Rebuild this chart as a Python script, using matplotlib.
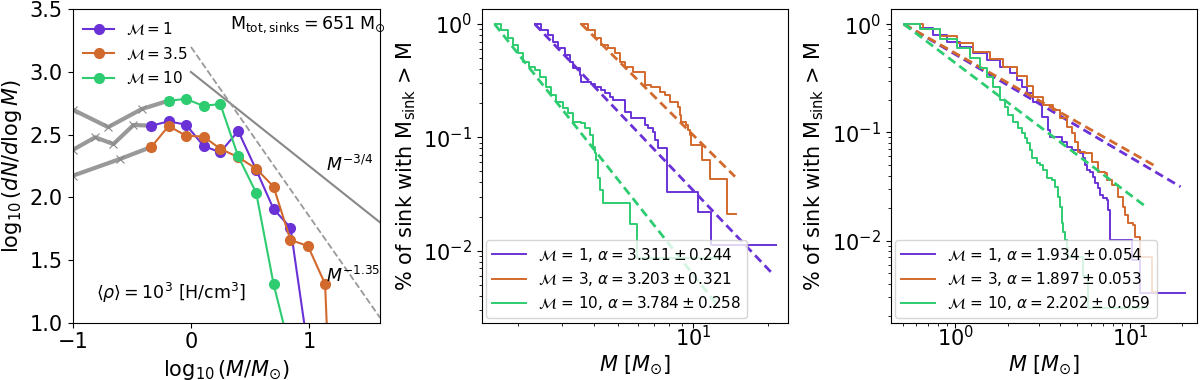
import numpy as np
import matplotlib
matplotlib.use("Agg")
from matplotlib import pyplot as plt
from matplotlib.ticker import NullFormatter

# colours
c_m1 = "#6a32d6"
c_m3 = "#d2692d"
c_m10 = "#2ecc71"

# ---------------- panel 1 : log mass function ----------------
x_m1 = [-0.335, -0.189, -0.042, 0.107, 0.248, 0.400, 0.552, 0.699, 0.842, 0.99]
y_m1 = [2.572, 2.606, 2.580, 2.410, 2.359, 2.529, 2.22, 1.907, 1.758, 0.79]
x_m35 = [-0.335, -0.189, -0.042, 0.107, 0.248, 0.400, 0.552, 0.699, 0.842, 0.99, 1.135, 1.28]
y_m35 = [2.402, 2.569, 2.492, 2.484, 2.388, 2.32, 2.229, 2.085, 1.660, 1.612, 1.309, -2.0]
x_m10 = [-0.189, -0.042, 0.107, 0.248, 0.400, 0.552, 0.699, 0.842]
y_m10 = [2.771, 2.785, 2.729, 2.745, 2.327, 2.037, 1.309, 0.77]

# low-mass (unresolved) part, drawn in grey
gx_m10 = [-1.0, -0.70, -0.415, -0.189]
gy_m10 = [2.70, 2.56, 2.705, 2.771]
gx_m1 = [-1.0, -0.81, -0.656, -0.486, -0.335]
gy_m1 = [2.378, 2.479, 2.425, 2.577, 2.572]
gx_m35 = [-1.0, -0.60, -0.335]
gy_m35 = [2.172, 2.306, 2.402]

# reference slopes
ref_x = [0.0, 1.6]
ref_34 = [3.0, 1.8]
ref_135 = [3.2, 1.04]

# ---------------- panel 2 : CCDF, case a ----------------
p2_m1_M = [2.33, 2.47, 2.63, 2.75, 2.88, 3.07, 3.21, 3.31, 3.52, 3.58, 3.92, 4.04, 4.30, 4.43,
           4.64, 4.79, 5.33, 5.67, 6.41, 6.61, 6.92, 7.03, 7.24, 7.87, 10.47, 11.84, 21.4]
p2_m1_P = [1.0, 0.885, 0.80, 0.70, 0.61, 0.53, 0.465, 0.406, 0.355, 0.31, 0.296, 0.276, 0.262,
           0.245, 0.229, 0.213, 0.168, 0.147, 0.128, 0.12, 0.112, 0.0947, 0.080, 0.0332,
           0.0221, 0.0112, 0.0112]
p2_m3_M = [3.58, 3.80, 4.04, 4.30, 4.57, 4.86, 5.09, 5.33, 5.75, 6.41, 6.81, 7.36, 7.70, 8.07,
           8.71, 8.84, 8.98, 9.40, 9.55, 9.70, 9.79, 10.9, 11.73, 13.6, 14.8]
p2_m3_P = [1.0, 0.885, 0.747, 0.653, 0.61, 0.551, 0.465, 0.42, 0.375, 0.29, 0.28, 0.253, 0.236,
           0.206, 0.187, 0.157, 0.137, 0.128, 0.116, 0.105, 0.0856, 0.063, 0.0426, 0.0211, 0.0211]
p2_m10_M = [1.61, 1.71, 1.82, 1.905, 1.995, 2.09, 2.22, 2.33, 2.44, 2.59, 2.71, 2.84, 3.02, 3.16,
            3.31, 3.58, 3.69, 3.86, 3.98, 4.04, 4.11, 4.17, 4.23, 4.37, 5.58, 5.97, 12.8]
p2_m10_P = [1.0, 0.885, 0.747, 0.653, 0.551, 0.465, 0.42, 0.393, 0.343, 0.28, 0.236, 0.206, 0.18,
            0.163, 0.137, 0.133, 0.12, 0.105, 0.0827, 0.0722, 0.063, 0.0435, 0.0343, 0.0262,
            0.0172, 0.0086, 0.0086]
# power-law fits (end points)
p2_fit_m1 = ([2.33, 20.7], [1.0, 0.0063])
p2_fit_m3 = ([3.58, 14.7], [1.0, 0.045])
p2_fit_m10 = ([1.61, 12.8], [1.0, 0.0031])
p2_labels = [r"$\mathcal{M}$ = 1, $\alpha = 3.311 \pm 0.244$",
             r"$\mathcal{M}$ = 3, $\alpha = 3.203 \pm 0.321$",
             r"$\mathcal{M}$ = 10, $\alpha = 3.784 \pm 0.258$"]

# ---------------- panel 3 : CCDF, case b ----------------
p3_m1_M = [0.508, 0.628, 0.748, 0.892, 1.063, 1.268, 1.511, 1.802, 2.056, 2.245, 2.398, 2.562,
           2.797, 3.121, 3.407, 3.483, 4.061, 4.339, 4.634, 5.17, 5.405, 5.525, 5.648, 5.902,
           6.168, 6.305, 6.588, 6.734, 7.037, 7.354, 7.516, 7.684, 10.22, 11.41, 20.65]
p3_m1_P = [1.0, 0.912, 0.792, 0.687, 0.618, 0.536, 0.465, 0.404, 0.350, 0.304, 0.264, 0.229,
           0.192, 0.1395, 0.105, 0.0912, 0.082, 0.0737, 0.0687, 0.064, 0.0575, 0.0499, 0.0449,
           0.0433, 0.039, 0.0338, 0.0304, 0.0264, 0.0246, 0.0237, 0.0192, 0.0101, 0.0067,
           0.00331, 0.00331]
p3_m3_M = [0.508, 0.656, 0.817, 1.018, 1.268, 1.579, 1.883, 2.245, 2.562, 2.797, 3.189, 3.640,
           3.974, 4.339, 4.634, 4.843, 5.06, 5.525, 6.033, 6.588, 7.194, 7.354, 7.853, 8.576,
           9.16, 9.363, 9.783, 10.45, 10.68, 11.41, 13.30, 14.21]
p3_m3_P = [1.0, 0.893, 0.775, 0.663, 0.555, 0.472, 0.404, 0.331, 0.268, 0.213, 0.179, 0.161,
           0.1347, 0.1128, 0.0979, 0.082, 0.0663, 0.064, 0.0536, 0.0433, 0.0418, 0.0363, 0.0326,
           0.0255, 0.0206, 0.0173, 0.0145, 0.014, 0.0109, 0.0071, 0.00338, 0.00338]
p3_m10_M = [0.508, 0.628, 0.817, 1.018, 1.213, 1.384, 1.511, 1.651, 1.802, 1.924, 2.011, 2.148,
            2.295, 2.398, 2.506, 2.562, 2.676, 2.735, 2.922, 3.053, 3.189, 3.333, 3.561, 3.721,
            3.888, 3.974, 4.061, 4.152, 4.244, 4.339, 4.436, 5.405, 5.774, 12.46]
p3_m10_P = [1.0, 0.893, 0.722, 0.596, 0.482, 0.39, 0.326, 0.264, 0.199, 0.172, 0.1445, 0.1255,
            0.1104, 0.0979, 0.088, 0.0791, 0.0687, 0.0575, 0.0517, 0.0499, 0.0449, 0.0376,
            0.0363, 0.0315, 0.0255, 0.0206, 0.0145, 0.0121, 0.0101, 0.0085, 0.0071, 0.00475,
            0.00237, 0.00237]
p3_fit_m1 = ([0.508, 19.5], [1.0, 0.0315])
p3_fit_m3 = ([0.508, 14.2], [1.0, 0.0482])
p3_fit_m10 = ([0.508, 12.5], [1.0, 0.0203])
p3_labels = [r"$\mathcal{M}$ = 1, $\alpha = 1.934 \pm 0.054$",
             r"$\mathcal{M}$ = 3, $\alpha = 1.897 \pm 0.053$",
             r"$\mathcal{M}$ = 10, $\alpha = 2.202 \pm 0.059$"]

plt.rcParams["font.size"] = 15

fig = plt.figure(figsize=(12, 3.8), dpi=100)
ax1 = fig.add_axes([0.0606, 0.1508, 0.2561, 0.8247])
ax2 = fig.add_axes([0.4014, 0.1508, 0.2555, 0.8247])
ax3 = fig.add_axes([0.7422, 0.1508, 0.2550, 0.8247])

# panel 1
for gx, gy in [(gx_m10, gy_m10), (gx_m1, gy_m1), (gx_m35, gy_m35)]:
    ax1.plot(gx, gy, color="#999999", lw=3, marker="x", ms=6, mew=0.8, mec="#888888")
ax1.plot(ref_x, ref_34, color="#888888", lw=1.5)
ax1.plot(ref_x, ref_135, color="#999999", lw=1.3, ls="--")
ax1.plot(x_m1, y_m1, "-o", color=c_m1, lw=1.5, ms=7, label=r"$\mathcal{M}=1$")
ax1.plot(x_m35, y_m35, "-o", color=c_m3, lw=1.5, ms=7, label=r"$\mathcal{M}=3.5$")
ax1.plot(x_m10, y_m10, "-o", color=c_m10, lw=1.5, ms=7, label=r"$\mathcal{M}=10$")
ax1.text(1.14, 2.26, r"$M^{-3/4}$", fontsize=12.5, va="center")
ax1.text(1.14, 1.37, r"$M^{-1.35}$", fontsize=12.5, va="center")
ax1.text(-0.80, 1.24, r"$\langle\rho\rangle = 10^3\ [\mathrm{H/cm^3}]$", fontsize=12.5, va="center")
ax1.text(0.33, 3.375, r"$\mathrm{M_{tot,sinks}} = 651\ \mathrm{M_{\odot}}$", fontsize=12.5, va="center")
ax1.set_xlim(-1, 1.6)
ax1.set_ylim(1.0, 3.5)
ax1.set_xticks([-1, 0, 1])
ax1.set_yticks([1.0, 1.5, 2.0, 2.5, 3.0, 3.5])
ax1.set_xlabel(r"$\log_{10}(M/M_{\odot})$")
ax1.set_ylabel(r"$\log_{10}(dN/d\log M)$")
ax1.legend(loc="upper left", frameon=False, fontsize=11, borderaxespad=0.3)

# panels 2 and 3
panels = [
    (ax2, [(p2_m1_M, p2_m1_P, p2_fit_m1), (p2_m3_M, p2_m3_P, p2_fit_m3),
           (p2_m10_M, p2_m10_P, p2_fit_m10)], p2_labels, (1.43, 24.0), (0.00231, 1.35)),
    (ax3, [(p3_m1_M, p3_m1_P, p3_fit_m1), (p3_m3_M, p3_m3_P, p3_fit_m3),
           (p3_m10_M, p3_m10_P, p3_fit_m10)], p3_labels, (0.427, 24.1), (0.00175, 1.37)),
]
for ax, series, labels, xl, yl in panels:
    for (M, P, fit), col, lab in zip(series, [c_m1, c_m3, c_m10], labels):
        ax.plot(M, P, color=col, lw=1.4, drawstyle="steps-post", label=lab)
        ax.plot(fit[0], fit[1], color=col, lw=2, ls="--", dashes=(3.2, 1.8))
    ax.set_xscale("log")
    ax.set_yscale("log")
    ax.set_xlim(*xl)
    ax.set_ylim(*yl)
    ax.xaxis.set_minor_formatter(NullFormatter())
    ax.tick_params(axis="x", which="major", pad=-1.5)
    ax.set_xlabel(r"$M\ [M_{\odot}]$", labelpad=2)
    ax.set_ylabel(r"% of sink with $\mathrm{M_{sink}}$ > M")
    ax.legend(loc="lower left", fontsize=11, borderaxespad=0.3, handlelength=2.2,
              labelspacing=0.4)

fig.savefig("out.png", dpi=100)
